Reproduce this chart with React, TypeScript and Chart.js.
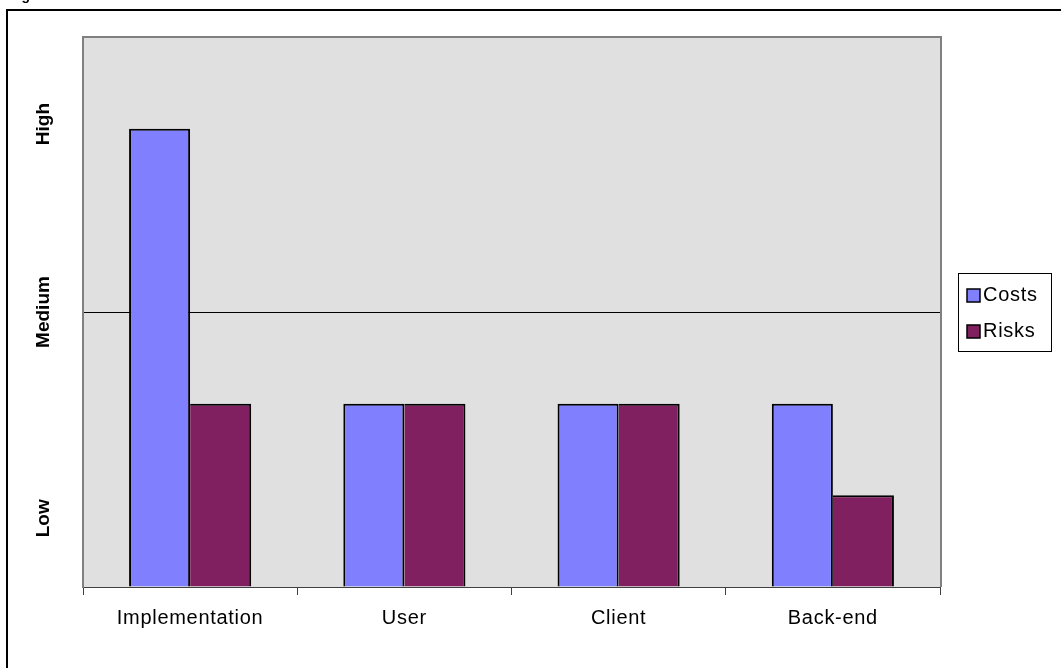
import React, { useEffect, useRef } from "react";
import { Chart, registerables } from "chart.js";

Chart.register(...registerables);

const categories = ["Implementation", "User", "Client", "Back-end"];
const costs = [5, 2, 2, 2];
const risks = [2, 2, 2, 1];
const seriesNames = ["Costs", "Risks"];
const seriesColors = ["#8080ff", "#802060"];
const levelLabels = ["Low", "Medium", "High"];
const levelValues = [0.75, 3, 5.05];
const captionText = "Figure";

const FONT = "'Liberation Sans', Arial, sans-serif";
const SPACING = "0.7px";

const spacingPlugin = {
  id: "spacing",
  beforeLayout(chart: any) {
    chart.ctx.letterSpacing = SPACING;
  },
  beforeDraw(chart: any) {
    chart.ctx.letterSpacing = SPACING;
  },
};

const plotBackground = {
  id: "plotBackground",
  beforeDraw(chart: any) {
    const { ctx, chartArea } = chart;
    ctx.save();
    ctx.fillStyle = "#e0e0e0";
    ctx.fillRect(chartArea.left, chartArea.top, chartArea.right - chartArea.left, chartArea.bottom - chartArea.top);
    ctx.restore();
  },
  afterDraw(chart: any) {
    const { ctx, chartArea } = chart;
    ctx.save();
    ctx.strokeStyle = "#808080";
    ctx.lineWidth = 2;
    ctx.beginPath();
    ctx.moveTo(chartArea.left, chartArea.top);
    ctx.lineTo(chartArea.right + 1, chartArea.top);
    ctx.lineTo(chartArea.right + 1, chartArea.bottom);
    ctx.stroke();
    ctx.restore();
  },
};

const levelPlugin = {
  id: "levelLabels",
  afterDraw(chart: any) {
    const { ctx } = chart;
    const y = chart.scales.y;
    ctx.save();
    ctx.letterSpacing = "0px";
    ctx.fillStyle = "#000";
    ctx.font = `bold 19px ${FONT}`;
    ctx.textAlign = "center";
    ctx.textBaseline = "middle";
    levelLabels.forEach((lbl, i) => {
      const py = y.getPixelForValue(levelValues[i]);
      ctx.save();
      ctx.translate(44, py);
      ctx.rotate(-Math.PI / 2);
      ctx.fillText(lbl, 0, 0);
      ctx.restore();
    });
    ctx.font = `bold 14px ${FONT}`;
    ctx.textAlign = "left";
    ctx.textBaseline = "alphabetic";
    ctx.fillText(captionText, 9, 0);
    ctx.restore();
  },
};

const legendPlugin = {
  id: "boxLegend",
  afterDraw(chart: any) {
    const { ctx, chartArea } = chart;
    const left = chartArea.right + 18;
    const w = 93;
    const h = 78;
    const top = (chartArea.top + chartArea.bottom) / 2 - h / 2;
    ctx.save();
    ctx.fillStyle = "#fff";
    ctx.fillRect(left, top, w, h);
    ctx.strokeStyle = "#000";
    ctx.lineWidth = 1;
    ctx.strokeRect(left + 0.5, top + 0.5, w, h);
    ctx.font = `20px ${FONT}`;
    ctx.letterSpacing = SPACING;
    ctx.textBaseline = "middle";
    ctx.textAlign = "left";
    chart.data.datasets.forEach((ds: any, i: number) => {
      const cy = top + 22 + i * 36;
      ctx.fillStyle = ds.backgroundColor;
      ctx.fillRect(left + 9, cy - 6, 13, 13);
      ctx.strokeStyle = "#000";
      ctx.lineWidth = 1.5;
      ctx.strokeRect(left + 9, cy - 6, 13, 13);
      ctx.fillStyle = "#000";
      ctx.fillText(ds.label, left + 25, cy);
    });
    ctx.restore();
  },
};

export default function App() {
  const ref = useRef<HTMLCanvasElement | null>(null);

  useEffect(() => {
    if (!ref.current) return;
    const chart = new Chart(ref.current, {
      type: "bar",
      data: {
        labels: categories,
        datasets: [
          {
            label: seriesNames[0],
            data: costs,
            backgroundColor: seriesColors[0],
            borderColor: "#000",
            borderWidth: { top: 2, left: 2, right: 2, bottom: 0 },
            borderSkipped: false,
            categoryPercentage: 0.57,
            barPercentage: 1,
          },
          {
            label: seriesNames[1],
            data: risks,
            backgroundColor: seriesColors[1],
            borderColor: "#000",
            borderWidth: { top: 2, left: 0, right: 2, bottom: 0 },
            borderSkipped: false,
            categoryPercentage: 0.57,
            barPercentage: 1,
          },
        ],
      },
      options: {
        responsive: false,
        animation: false,
        devicePixelRatio: 1,
        layout: { padding: { left: 0, top: 37, right: 121, bottom: 0 } },
        plugins: {
          legend: { display: false },
          tooltip: { enabled: false },
          title: { display: false },
        },
        scales: {
          x: {
            offset: true,
            grid: {
              offset: true,
              drawOnChartArea: false,
              drawTicks: true,
              tickLength: 8,
              color: "#404040",
            },
            border: { color: "#404040", width: 1 },
            ticks: {
              color: "#000",
              font: { family: FONT, size: 20 },
              padding: 11,
              maxRotation: 0,
            },
            afterFit: (s: any) => {
              s.height = 81;
            },
          },
          y: {
            min: 0,
            max: 6,
            ticks: { display: false, stepSize: 3 },
            grid: {
              drawTicks: false,
              color: (c: any) => (c.tick && c.tick.value === 3 ? "#000" : "rgba(0,0,0,0)"),
              lineWidth: 1,
            },
            border: { color: "#808080", width: 2 },
            afterFit: (s: any) => {
              s.width = 83;
            },
          },
        },
      },
      plugins: [spacingPlugin, plotBackground, levelPlugin, legendPlugin],
    });
    return () => chart.destroy();
  }, []);

  return (
    <div
      style={{
        position: "fixed",
        left: 0,
        top: 0,
        width: 1061,
        height: 668,
        background: "#fff",
        overflow: "hidden",
      }}
    >
      <div
        style={{
          position: "absolute",
          left: 6,
          top: 9,
          width: 2000,
          height: 2000,
          borderLeft: "2px solid #000",
          borderTop: "2px solid #000",
        }}
      />
      <canvas
        ref={ref}
        width={1061}
        height={668}
        style={{ position: "absolute", left: 0, top: 0, width: 1061, height: 668 }}
      />
    </div>
  );
}
